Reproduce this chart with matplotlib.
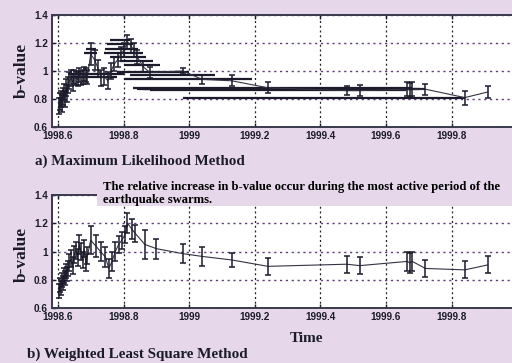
import matplotlib
matplotlib.use('Agg')
import matplotlib.pyplot as plt
from matplotlib.patches import Rectangle
from matplotlib.ticker import FuncFormatter

# ---------------- data ----------------
x_ticks = [1998.6, 1998.8, 1999.0, 1999.2, 1999.4, 1999.6, 1999.8]
y_ticks = [0.6, 0.8, 1.0, 1.2, 1.4]

# a) Maximum Likelihood Method
t_ml = [1998.603, 1998.606, 1998.609, 1998.612, 1998.615, 1998.618, 1998.621, 1998.624,
        1998.627, 1998.630, 1998.635, 1998.640, 1998.645, 1998.650, 1998.655, 1998.660,
        1998.665, 1998.670, 1998.675, 1998.680, 1998.685, 1998.690, 1998.700, 1998.712,
        1998.722, 1998.732, 1998.742, 1998.752, 1998.762, 1998.772, 1998.782, 1998.792,
        1998.802, 1998.812, 1998.822, 1998.832, 1998.842, 1998.860, 1998.880, 1998.980,
        1999.040, 1999.130, 1999.240, 1999.480, 1999.520, 1999.665, 1999.672, 1999.680,
        1999.720, 1999.840, 1999.910]
b_ml = [0.75, 0.78, 0.80, 0.77, 0.82, 0.85, 0.80, 0.88, 0.84, 0.90, 0.93, 0.95, 0.92,
        0.96, 0.95, 0.94, 0.97, 0.95, 0.96, 0.98, 0.97, 0.96, 1.12, 1.08, 1.02, 0.95,
        0.96, 0.93, 1.00, 1.05, 1.08, 1.12, 1.15, 1.21, 1.18, 1.15, 1.10, 1.03, 0.99,
        1.00, 0.94, 0.93, 0.88, 0.86, 0.86, 0.87, 0.865, 0.87, 0.87, 0.81, 0.85]
e_ml = [0.06, 0.06, 0.06, 0.06, 0.06, 0.06, 0.06, 0.06, 0.06, 0.06, 0.06, 0.06, 0.06,
        0.05, 0.05, 0.05, 0.05, 0.05, 0.05, 0.05, 0.05, 0.05, 0.08, 0.07, 0.06, 0.06,
        0.06, 0.06, 0.06, 0.05, 0.05, 0.05, 0.05, 0.05, 0.05, 0.05, 0.05, 0.04, 0.04,
        0.02, 0.03, 0.04, 0.04, 0.03, 0.04, 0.05, 0.05, 0.05, 0.04, 0.05, 0.04]

# time-window segments of the ML estimates
seg_b  = [0.98, 0.96, 1.16, 1.13, 1.22, 1.19, 1.16, 1.13, 1.10, 1.07, 1.04,
          0.99, 0.975, 0.94, 0.88, 0.875, 0.87, 0.865, 0.81]
seg_t0 = [1998.63, 1998.64, 1998.685, 1998.68, 1998.76, 1998.75, 1998.745, 1998.74,
          1998.76, 1998.79, 1998.80, 1998.78, 1998.82, 1998.80, 1998.83, 1998.84,
          1998.86, 1998.88, 1998.98]
seg_t1 = [1998.80, 1998.78, 1998.715, 1998.72, 1998.82, 1998.83, 1998.845, 1998.86,
          1998.87, 1998.89, 1998.91, 1999.00, 1999.08, 1999.19, 1999.68, 1999.70,
          1999.72, 1999.66, 1999.84]

# b) Weighted Least Square Method
t_wls = [1998.603, 1998.606, 1998.609, 1998.612, 1998.615, 1998.618, 1998.621, 1998.624,
         1998.627, 1998.630, 1998.635, 1998.640, 1998.645, 1998.650, 1998.655, 1998.660,
         1998.665, 1998.670, 1998.675, 1998.680, 1998.685, 1998.690, 1998.700, 1998.715,
         1998.730, 1998.745, 1998.755, 1998.765, 1998.775, 1998.785, 1998.795, 1998.805,
         1998.812, 1998.825, 1998.835, 1998.865, 1998.900, 1998.980, 1999.040, 1999.130,
         1999.240, 1999.480, 1999.520, 1999.665, 1999.672, 1999.680, 1999.720, 1999.840,
         1999.910]
b_wls = [0.72, 0.76, 0.74, 0.80, 0.78, 0.83, 0.81, 0.86, 0.84, 0.88, 0.92, 0.95, 0.90,
         0.98, 1.01, 0.96, 1.05, 1.00, 0.94, 1.02, 0.92, 0.97, 1.08, 1.04, 1.00, 0.96,
         0.88, 0.93, 1.00, 1.05, 1.08, 1.12, 1.20, 1.16, 1.13, 1.05, 1.02, 0.985, 0.965,
         0.94, 0.895, 0.91, 0.90, 0.93, 0.92, 0.93, 0.88, 0.87, 0.905]
e_wls = [0.05, 0.05, 0.05, 0.05, 0.05, 0.05, 0.05, 0.05, 0.05, 0.05, 0.06, 0.06, 0.06,
         0.06, 0.06, 0.06, 0.07, 0.06, 0.06, 0.06, 0.06, 0.06, 0.10, 0.08, 0.07, 0.07,
         0.07, 0.07, 0.07, 0.06, 0.06, 0.06, 0.07, 0.07, 0.06, 0.10, 0.07, 0.065, 0.065,
         0.05, 0.06, 0.06, 0.06, 0.07, 0.07, 0.07, 0.06, 0.06, 0.06]

caption_a = "a) Maximum Likelihood Method"
caption_b = "b) Weighted Least Square Method"
note_1 = "The relative increase in b-value occur during the most active period of the"
note_2 = "earthquake swarms."

# ---------------- style ----------------
BG = '#e6d8ea'
INK = '#1b1b2b'
SERIF = ['Liberation Serif', 'DejaVu Serif']
SANS = ['Liberation Sans', 'DejaVu Sans']

fig = plt.figure(figsize=(5.12, 3.63), dpi=100)
fig.patch.set_facecolor(BG)

W, H = 512.0, 363.0
def box(l, t, r, b):
    return [l / W, 1 - b / H, (r - l) / W, (b - t) / H]

ax1 = fig.add_axes(box(52, 15, 514, 127))
ax2 = fig.add_axes(box(52, 195, 514, 308))

def style(ax):
    ax.set_facecolor('white')
    ax.set_xlim(1998.582, 1999.99)
    ax.set_ylim(0.6, 1.4)
    ax.set_xticks(x_ticks)
    ax.set_yticks(y_ticks)
    ax.xaxis.set_major_formatter(FuncFormatter(lambda v, p: '%g' % round(v, 1)))
    ax.yaxis.set_major_formatter(FuncFormatter(lambda v, p: '%g' % round(v, 1)))
    ax.tick_params(direction='in', length=3, width=1, colors=INK, labelsize=7.2,
                   top=True, pad=3)
    for lab in ax.get_xticklabels() + ax.get_yticklabels():
        lab.set_family(SANS)
        lab.set_fontweight('bold')
    ax.xaxis.grid(True, linestyle=(0, (1.6, 2.2)), color='#222222', lw=0.9)
    ax.yaxis.grid(True, linestyle=(0, (1.6, 2.6)), color='#5b3f7e', lw=1.0)
    ax.set_axisbelow(True)
    for s in ['left', 'bottom', 'top']:
        ax.spines[s].set_color('#3a3a4e')
        ax.spines[s].set_linewidth(1.4)
    ax.spines['right'].set_visible(False)

style(ax1)
style(ax2)

# panel a
ax1.hlines(seg_b, seg_t0, seg_t1, colors=INK, lw=1.6, zorder=3)
ax1.plot(t_ml, b_ml, color='#333344', lw=0.8, zorder=3)
ax1.errorbar(t_ml, b_ml, yerr=e_ml, fmt='none', ecolor=INK, elinewidth=1.1,
             capsize=2.5, capthick=1.1, zorder=4)

# panel b
ax2.plot(t_wls, b_wls, color='#333344', lw=0.8, zorder=3)
ax2.errorbar(t_wls, b_wls, yerr=e_wls, fmt='none', ecolor=INK, elinewidth=1.1,
             capsize=2.5, capthick=1.1, zorder=4)

# labels
fig.text(22 / W, 1 - 70 / H, 'b-value', rotation=90, ha='center', va='center',
         family=SERIF, fontweight='bold', fontsize=12.5, color=INK)
fig.text(22 / W, 1 - 254 / H, 'b-value', rotation=90, ha='center', va='center',
         family=SERIF, fontweight='bold', fontsize=12.5, color=INK)
fig.text(35 / W, 1 - 161 / H, caption_a, ha='left', va='center',
         family=SERIF, fontweight='bold', fontsize=10.8, color=INK)
fig.text(27 / W, 1 - 354 / H, caption_b, ha='left', va='center',
         family=SERIF, fontweight='bold', fontsize=10.9, color=INK)
fig.text(307 / W, 1 - 339 / H, 'Time', ha='center', va='center',
         family=SERIF, fontweight='bold', fontsize=11, color=INK)

# annotation box overlapping top of panel b
fig.add_artist(Rectangle((97 / W, 1 - 206 / H), (W - 97) / W, 28 / H,
                         transform=fig.transFigure, facecolor=BG, edgecolor='none',
                         zorder=2))
fig.text(103 / W, 1 - 187 / H, note_1, ha='left', va='center', family=SERIF,
         fontweight='bold', fontsize=9.1, color='black', zorder=5)
fig.text(103 / W, 1 - 200 / H, note_2, ha='left', va='center', family=SERIF,
         fontweight='bold', fontsize=9.1, color='black', zorder=5)

fig.savefig('out.png', dpi=100, facecolor=BG)
